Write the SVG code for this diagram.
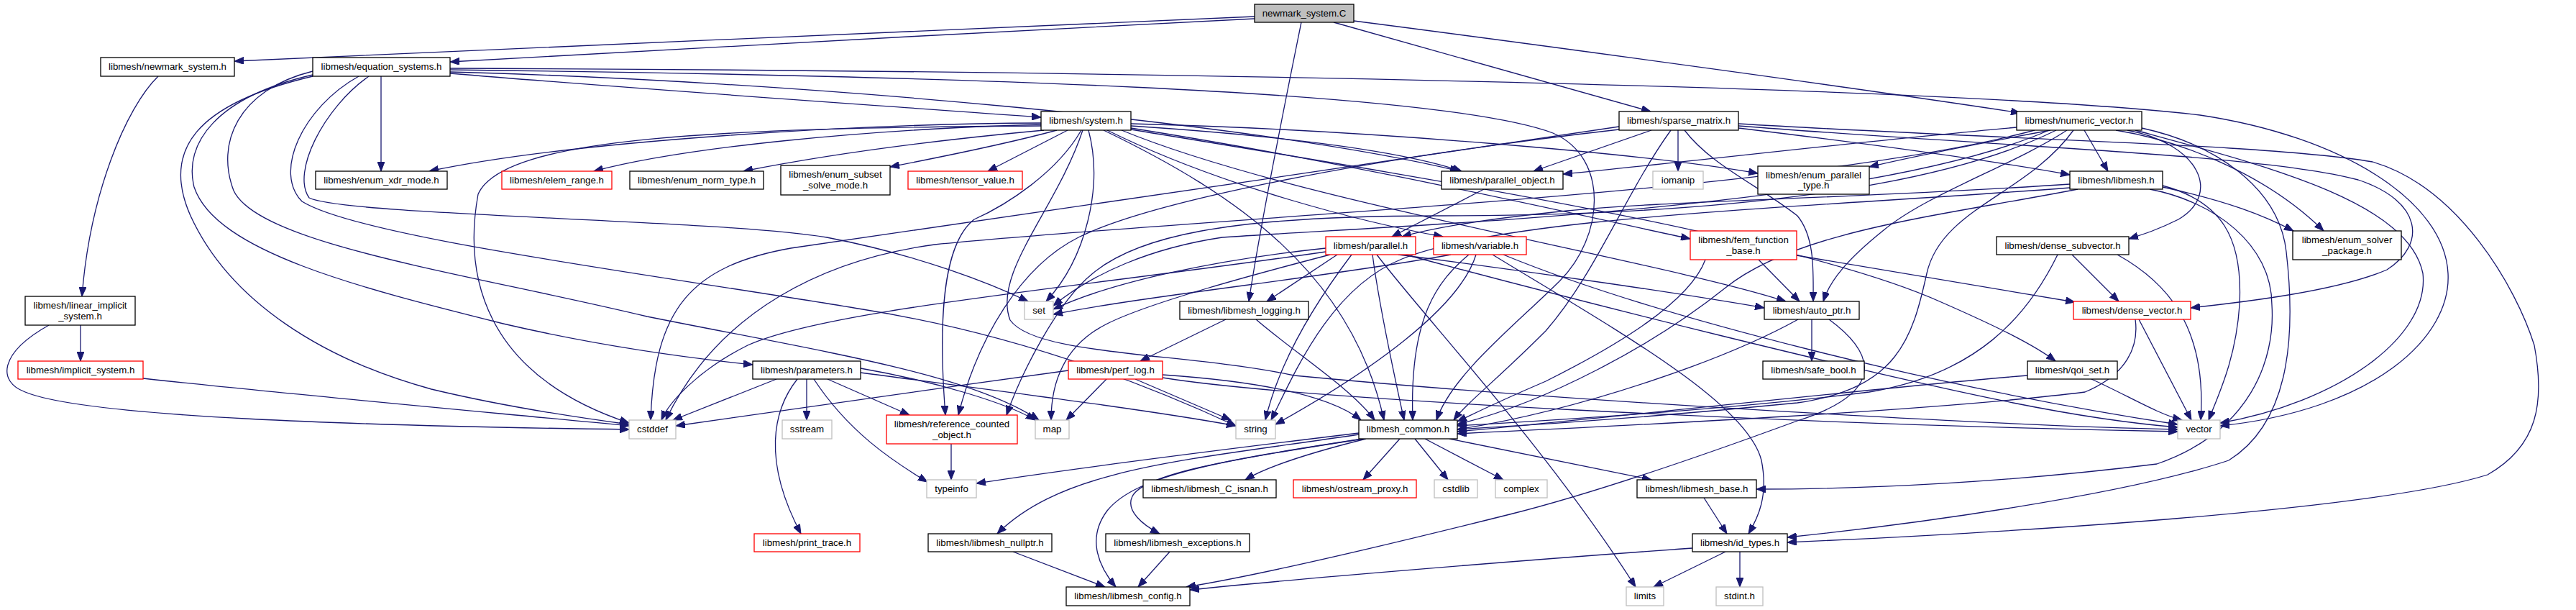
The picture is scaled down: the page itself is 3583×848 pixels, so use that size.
<svg xmlns="http://www.w3.org/2000/svg" width="3583" height="848" viewBox="0 0 3583 848">
<style>
rect{fill:#fff;stroke:#000;stroke-width:1.3}
.r rect{stroke:#ff0000}
.g rect{stroke:#bfbfbf}
.root rect{fill:#bfbfbf}
text{font-family:"Liberation Sans",Arial,sans-serif;font-size:13.3px;text-anchor:middle;fill:#000}
#edges path{fill:none;stroke:#191970;stroke-width:1.3;marker-end:url(#a)}
</style>
<defs>
<marker id="a" markerUnits="userSpaceOnUse" markerWidth="14" markerHeight="10" refX="13" refY="5" orient="auto"><path d="M0,0 L13,5 L0,10 z" fill="#191970" stroke="#191970" stroke-width="1"/></marker>
</defs>
<rect x="0" y="0" width="3583" height="848" style="fill:#fff;stroke:none"/>
<g id="edges">
<path d="M1745,23 C1400,38 700,68 326,85"/>
<path d="M1745,26 C1400,42 900,72 626,86"/>
<path d="M1810,31 C1790,130 1755,300 1737,419"/>
<path d="M1855,31 L2296,155"/>
<path d="M1883,29 C2200,70 2600,125 2810,157"/>
<path d="M220,106 C175,150 125,270 114,412"/>
<path d="M112,452 L112,502"/>
<path d="M68,452 C0,490 -5,530 35,545 C120,580 500,592 875,597"/>
<path d="M199,526 C400,548 700,575 875,592"/>
<path d="M530,106 L530,238"/>
<path d="M626,102 C900,125 1200,145 1448,163"/>
<path d="M626,100 C1100,112 1750,170 2030,238"/>
<path d="M626,97 C1300,105 2000,125 2160,185 C2240,220 2230,330 2170,390 C2110,450 2020,520 1998,584"/>
<path d="M626,95 C1500,98 2700,118 3060,160 C3260,190 3400,280 3405,380 C3410,470 3300,570 3088,592"/>
<path d="M435,99 C330,125 300,200 325,265 C360,340 650,380 900,440 C1150,490 1350,520 1445,584"/>
<path d="M435,104 C300,135 255,200 270,260 C300,350 500,400 700,450 C850,485 980,500 1047,507"/>
<path d="M435,106 C270,145 225,210 265,300 C320,420 450,500 600,541 C700,565 800,580 875,590"/>
<path d="M499,106 C420,150 380,240 420,280 C500,330 900,380 1200,430 C1450,470 1650,560 1719,592"/>
<path d="M513,106 C450,150 405,240 430,275 C480,300 1000,305 1150,330 C1280,355 1380,395 1430,419"/>
<path d="M1448,171 C1200,172 800,195 597,238"/>
<path d="M1448,173 C1200,180 950,205 826,238"/>
<path d="M1452,181 C1300,195 1150,215 1034,238"/>
<path d="M1470,181 C1400,200 1300,220 1238,232"/>
<path d="M1485,181 L1374,238"/>
<path d="M1448,175 C1000,178 700,190 665,270 C645,380 670,520 875,588"/>
<path d="M1514,181 C1535,260 1510,360 1455,419"/>
<path d="M1504,181 C1470,240 1400,285 1355,305 C1310,340 1305,450 1315,577"/>
<path d="M1506,181 C1470,290 1380,380 1405,445 C1440,495 1650,490 1800,522 C2200,560 2800,592 3029,597"/>
<path d="M1573,175 C1800,190 1950,210 2033,238"/>
<path d="M1573,172 C1900,180 2300,215 2445,241"/>
<path d="M1573,178 C1900,230 2200,300 2351,332"/>
<path d="M1540,181 C1700,260 1900,310 2007,329"/>
<path d="M1560,181 C1800,280 2300,360 2484,419"/>
<path d="M1573,180 C2000,250 2500,330 2700,420 C2780,455 2830,480 2859,502"/>
<path d="M1535,181 C1720,270 1880,380 1925,584"/>
<path d="M2064,263 L1936,329"/>
<path d="M2297,181 L2133,238"/>
<path d="M2334,181 L2334,238"/>
<path d="M2418,178 C2600,200 2780,225 2879,243"/>
<path d="M2343,181 C2380,230 2450,260 2500,300 C2525,330 2522,380 2522,419"/>
<path d="M2252,176 C1900,230 1400,300 1100,345 C960,370 910,430 905,584"/>
<path d="M2252,180 C1900,220 1600,280 1500,330 C1420,370 1360,470 1333,577"/>
<path d="M2324,181 C2260,270 2220,380 2150,460 C2080,530 2040,560 2022,584"/>
<path d="M2418,172 C2800,195 3150,200 3300,225 C3420,260 3500,400 3525,480 C3540,560 3530,620 3460,660 C3300,710 2800,740 2486,754"/>
<path d="M2418,175 C2800,205 3150,215 3280,250 C3370,280 3375,340 3320,375 C3250,405 3120,420 3047,428"/>
<path d="M2805,177 C2600,195 2350,225 2174,242"/>
<path d="M2852,181 C2750,200 2650,220 2600,232"/>
<path d="M2899,181 L2932,238"/>
<path d="M2943,181 C3030,195 3150,240 3232,321"/>
<path d="M2959,181 C3060,200 3090,270 3030,305 C3000,320 2980,326 2961,332"/>
<path d="M2875,181 C2800,230 2680,270 2620,320 C2570,360 2545,390 2536,419"/>
<path d="M2979,178 C3080,200 3170,260 3180,350 C3195,480 3180,590 3100,640 C2950,690 2650,730 2486,747"/>
<path d="M2970,181 C3150,230 3350,280 3370,380 C3380,470 3250,560 3088,588"/>
<path d="M2884,181 C2820,270 2700,290 2680,380 C2660,470 2640,540 2500,560 C2300,580 2150,590 2027,597"/>
<path d="M2860,181 C2700,260 2400,300 2000,300 C1700,300 1580,330 1520,380 C1470,420 1420,520 1400,577"/>
<path d="M2830,181 C2500,270 1700,300 1300,340 C1150,360 1000,430 926,584"/>
<path d="M2850,181 C2600,290 2000,310 1700,330 C1600,345 1520,380 1465,425"/>
<path d="M3008,260 C3100,280 3150,300 3190,321"/>
<path d="M2990,263 C3080,280 3160,340 3160,424 C3165,500 3130,600 3000,645 C2800,670 2600,680 2443,680"/>
<path d="M2890,263 C2700,300 2500,320 2400,400 C2300,480 2150,560 2027,590"/>
<path d="M2879,256 C2600,275 2300,280 2180,293 C2080,303 2000,315 1950,329"/>
<path d="M2879,261 C2500,290 2100,300 1950,360 C1850,400 1800,520 1768,584"/>
<path d="M3008,258 C3090,280 3120,330 3115,424 C3110,500 3085,550 3072,584"/>
<path d="M2882,354 L2947,419"/>
<path d="M2862,354 C2820,440 2750,520 2600,545 C2400,570 2150,585 2027,592"/>
<path d="M2945,354 C3010,390 3070,450 3061,584"/>
<path d="M2975,444 L3048,584"/>
<path d="M2970,444 C2975,480 2960,520 2900,545 C2700,570 2300,590 2027,603"/>
<path d="M2820,522 C2600,540 2300,575 2027,600"/>
<path d="M2909,527 C2960,550 3000,575 3035,584"/>
<path d="M2446,361 L2503,419"/>
<path d="M2499,355 C2650,380 2800,405 2886,420"/>
<path d="M2372,361 C2350,420 2250,480 2150,530 C2080,560 2050,575 2027,586"/>
<path d="M1860,354 L1762,419"/>
<path d="M1909,354 C1915,400 1930,480 1953,584"/>
<path d="M1915,354 C1980,440 2150,620 2275,816"/>
<path d="M1945,354 C2150,380 2350,410 2454,428"/>
<path d="M1844,350 C1500,400 1150,430 1040,480 C970,515 930,560 920,584"/>
<path d="M1850,354 C1750,380 1600,420 1540,450 C1480,480 1462,530 1462,584"/>
<path d="M1844,345 C1700,360 1550,390 1465,430"/>
<path d="M1880,354 C1830,420 1780,500 1760,584"/>
<path d="M1955,354 C2200,420 2600,520 2800,560 C2900,580 2980,590 3029,594"/>
<path d="M2043,354 C2000,390 1960,440 1965,584"/>
<path d="M2053,354 C2030,430 1900,520 1774,590"/>
<path d="M2018,354 C1850,385 1600,410 1465,437"/>
<path d="M2076,354 C2250,460 2430,560 2450,640 C2460,690 2445,720 2432,742"/>
<path d="M2091,354 C2300,440 2700,540 3029,590"/>
<path d="M1705,444 L1586,502"/>
<path d="M1747,444 C1800,490 1880,540 1912,584"/>
<path d="M1486,515 C1300,540 1100,570 940,592"/>
<path d="M1539,527 L1483,584"/>
<path d="M1579,527 L1712,584"/>
<path d="M1617,521 C1750,530 1850,550 1893,584"/>
<path d="M1617,525 C1800,555 2500,590 3029,600"/>
<path d="M1080,527 L936,584"/>
<path d="M1122,527 L1122,584"/>
<path d="M1109,527 C1075,570 1060,640 1114,742"/>
<path d="M1132,527 C1180,600 1240,640 1290,670"/>
<path d="M1151,527 L1265,577"/>
<path d="M1197,512 C1300,530 1400,560 1440,584"/>
<path d="M1197,518 C1400,545 1600,570 1719,592"/>
<path d="M1323,617 L1323,667"/>
<path d="M1890,602 C1700,625 1500,650 1358,672"/>
<path d="M1890,604 C1650,640 1480,650 1387,742"/>
<path d="M1895,610 C1700,640 1580,660 1540,710 C1510,750 1530,790 1552,816"/>
<path d="M1897,610 C1700,640 1590,660 1575,690 C1565,710 1590,730 1613,742"/>
<path d="M1900,610 C1820,630 1760,650 1732,667"/>
<path d="M1947,610 L1896,667"/>
<path d="M1968,610 L2014,667"/>
<path d="M1982,610 L2091,667"/>
<path d="M2016,610 L2297,667"/>
<path d="M2370,692 L2402,742"/>
<path d="M2354,762 C2100,780 1800,805 1655,820"/>
<path d="M2400,767 L2300,816"/>
<path d="M2420,767 L2420,816"/>
<path d="M2520,444 L2520,502"/>
<path d="M2501,444 C2400,500 2200,570 2027,597"/>
<path d="M2544,444 C2620,500 2610,550 2500,585 C2350,640 2200,690 2100,715 C1900,765 1750,800 1650,816"/>
<path d="M1409,767 L1537,816"/>
<path d="M1627,767 L1583,816"/>
</g>
<g id="n_C" class="root"><rect x="1745" y="6" width="138" height="25"/><text x="1814" y="23">newmark_system.C</text></g>
<g id="n_newmark_system_h"><rect x="140" y="80" width="186" height="26"/><text x="233" y="97">libmesh/newmark_system.h</text></g>
<g id="n_equation_systems_h"><rect x="435" y="80" width="191" height="26"/><text x="530.5" y="97">libmesh/equation_systems.h</text></g>
<g id="n_linear_implicit_system_h"><rect x="35" y="412" width="153" height="40"/><text x="111.5" y="429">libmesh/linear_implicit</text><text x="111.5" y="444">_system.h</text></g>
<g id="n_implicit_system_h" class="r"><rect x="25" y="502" width="174" height="25"/><text x="112" y="519">libmesh/implicit_system.h</text></g>
<g id="n_enum_xdr_mode_h"><rect x="439" y="238" width="183" height="25"/><text x="530.5" y="255">libmesh/enum_xdr_mode.h</text></g>
<g id="n_elem_range_h" class="r"><rect x="698" y="238" width="153" height="25"/><text x="774.5" y="255">libmesh/elem_range.h</text></g>
<g id="n_enum_norm_type_h"><rect x="876" y="238" width="186" height="25"/><text x="969" y="255">libmesh/enum_norm_type.h</text></g>
<g id="n_enum_subset_solve_mode_h"><rect x="1086" y="230" width="152" height="41"/><text x="1162" y="247">libmesh/enum_subset</text><text x="1162" y="262">_solve_mode.h</text></g>
<g id="n_tensor_value_h" class="r"><rect x="1263" y="238" width="159" height="25"/><text x="1342.5" y="255">libmesh/tensor_value.h</text></g>
<g id="n_system_h"><rect x="1448" y="155" width="125" height="26"/><text x="1510.5" y="172">libmesh/system.h</text></g>
<g id="n_sparse_matrix_h"><rect x="2252" y="155" width="166" height="26"/><text x="2335" y="172">libmesh/sparse_matrix.h</text></g>
<g id="n_numeric_vector_h"><rect x="2805" y="155" width="174" height="26"/><text x="2892" y="172">libmesh/numeric_vector.h</text></g>
<g id="n_parallel_object_h"><rect x="2005" y="238" width="169" height="25"/><text x="2089.5" y="255">libmesh/parallel_object.h</text></g>
<g id="n_iomanip" class="g"><rect x="2299" y="238" width="70" height="25"/><text x="2334" y="255">iomanip</text></g>
<g id="n_enum_parallel_type_h"><rect x="2445" y="231" width="155" height="39"/><text x="2522.5" y="248">libmesh/enum_parallel</text><text x="2522.5" y="262">_type.h</text></g>
<g id="n_libmesh_h"><rect x="2879" y="238" width="129" height="25"/><text x="2943.5" y="255">libmesh/libmesh.h</text></g>
<g id="n_enum_solver_package_h"><rect x="3189" y="321" width="151" height="40"/><text x="3264.5" y="338">libmesh/enum_solver</text><text x="3264.5" y="353">_package.h</text></g>
<g id="n_dense_subvector_h"><rect x="2777" y="329" width="184" height="25"/><text x="2869" y="346">libmesh/dense_subvector.h</text></g>
<g id="n_fem_function_base_h" class="r"><rect x="2351" y="321" width="148" height="40"/><text x="2425" y="338">libmesh/fem_function</text><text x="2425" y="353">_base.h</text></g>
<g id="n_parallel_h" class="r"><rect x="1844" y="329" width="125" height="25"/><text x="1906.5" y="346">libmesh/parallel.h</text></g>
<g id="n_variable_h" class="r"><rect x="1994" y="329" width="129" height="25"/><text x="2058.5" y="346">libmesh/variable.h</text></g>
<g id="n_set" class="g"><rect x="1425" y="419" width="40" height="25"/><text x="1445" y="436">set</text></g>
<g id="n_libmesh_logging_h"><rect x="1641" y="419" width="179" height="25"/><text x="1730.5" y="436">libmesh/libmesh_logging.h</text></g>
<g id="n_auto_ptr_h"><rect x="2454" y="419" width="132" height="25"/><text x="2520" y="436">libmesh/auto_ptr.h</text></g>
<g id="n_dense_vector_h" class="r"><rect x="2884" y="419" width="163" height="25"/><text x="2965.5" y="436">libmesh/dense_vector.h</text></g>
<g id="n_vector" class="g"><rect x="3029" y="584" width="59" height="26"/><text x="3058.5" y="601">vector</text></g>
<g id="n_safe_bool_h"><rect x="2452" y="502" width="141" height="25"/><text x="2522.5" y="519">libmesh/safe_bool.h</text></g>
<g id="n_qoi_set_h"><rect x="2820" y="502" width="125" height="25"/><text x="2882.5" y="519">libmesh/qoi_set.h</text></g>
<g id="n_parameters_h"><rect x="1047" y="502" width="150" height="25"/><text x="1122" y="519">libmesh/parameters.h</text></g>
<g id="n_cstddef" class="g"><rect x="875" y="584" width="65" height="26"/><text x="907.5" y="601">cstddef</text></g>
<g id="n_sstream" class="g"><rect x="1088" y="584" width="69" height="26"/><text x="1122.5" y="601">sstream</text></g>
<g id="n_print_trace_h" class="r"><rect x="1049" y="742" width="147" height="25"/><text x="1122.5" y="759">libmesh/print_trace.h</text></g>
<g id="n_reference_counted_object_h" class="r"><rect x="1233" y="577" width="182" height="40"/><text x="1324" y="594">libmesh/reference_counted</text><text x="1324" y="609">_object.h</text></g>
<g id="n_map" class="g"><rect x="1440" y="584" width="47" height="26"/><text x="1463.5" y="601">map</text></g>
<g id="n_perf_log_h" class="r"><rect x="1486" y="502" width="131" height="25"/><text x="1551.5" y="519">libmesh/perf_log.h</text></g>
<g id="n_string" class="g"><rect x="1719" y="584" width="55" height="26"/><text x="1746.5" y="601">string</text></g>
<g id="n_typeinfo" class="g"><rect x="1289" y="667" width="69" height="25"/><text x="1323.5" y="684">typeinfo</text></g>
<g id="n_libmesh_C_isnan_h"><rect x="1590" y="667" width="185" height="25"/><text x="1682.5" y="684">libmesh/libmesh_C_isnan.h</text></g>
<g id="n_ostream_proxy_h" class="r"><rect x="1799" y="667" width="171" height="25"/><text x="1884.5" y="684">libmesh/ostream_proxy.h</text></g>
<g id="n_libmesh_common_h"><rect x="1890" y="584" width="137" height="26"/><text x="1958.5" y="601">libmesh_common.h</text></g>
<g id="n_cstdlib" class="g"><rect x="1995" y="667" width="60" height="25"/><text x="2025" y="684">cstdlib</text></g>
<g id="n_complex" class="g"><rect x="2080" y="667" width="72" height="25"/><text x="2116" y="684">complex</text></g>
<g id="n_libmesh_base_h"><rect x="2277" y="667" width="166" height="25"/><text x="2360" y="684">libmesh/libmesh_base.h</text></g>
<g id="n_id_types_h"><rect x="2354" y="742" width="132" height="25"/><text x="2420" y="759">libmesh/id_types.h</text></g>
<g id="n_limits" class="g"><rect x="2262" y="816" width="52" height="26"/><text x="2288" y="833">limits</text></g>
<g id="n_stdint_h" class="g"><rect x="2387" y="816" width="65" height="26"/><text x="2419.5" y="833">stdint.h</text></g>
<g id="n_libmesh_nullptr_h"><rect x="1291" y="742" width="172" height="25"/><text x="1377" y="759">libmesh/libmesh_nullptr.h</text></g>
<g id="n_libmesh_exceptions_h"><rect x="1538" y="742" width="200" height="25"/><text x="1638" y="759">libmesh/libmesh_exceptions.h</text></g>
<g id="n_libmesh_config_h"><rect x="1483" y="816" width="172" height="26"/><text x="1569" y="833">libmesh/libmesh_config.h</text></g>
</svg>
